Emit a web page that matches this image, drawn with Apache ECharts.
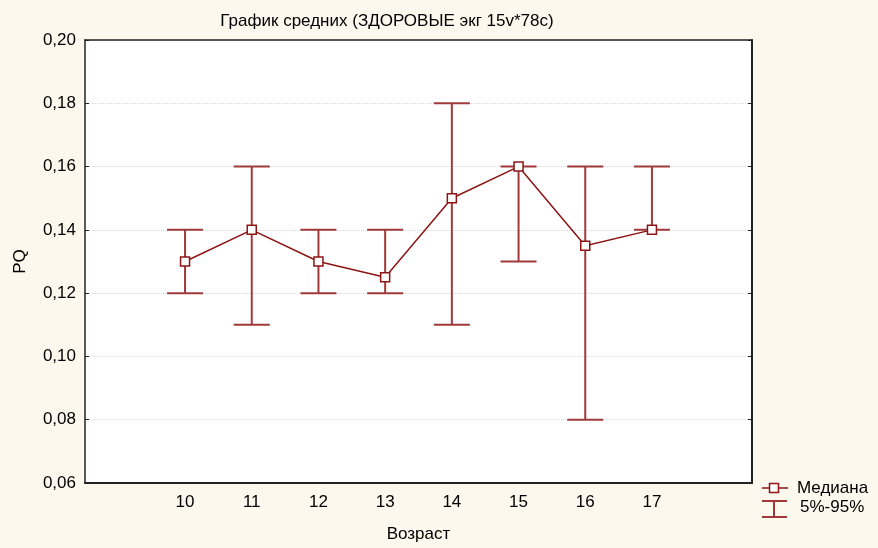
<!DOCTYPE html>
<html>
<head>
<meta charset="utf-8">
<script src="https://cdn.jsdelivr.net/npm/echarts@6/dist/echarts.min.js"></script>
<style>
  html, body { margin: 0; padding: 0; background: #fdf8ed; }
  #chart { width: 878px; height: 548px; }
</style>
</head>
<body>
<div id="chart"></div>
<script>
// оси
const xTicks = ["9", "10", "11", "12", "13", "14", "15", "16", "17", "18"];
const ages = ["10", "11", "12", "13", "14", "15", "16", "17"];
// медиана и 5%-95%
const medians = [0.13, 0.14, 0.13, 0.125, 0.15, 0.16, 0.135, 0.14];
const p5 = [0.12, 0.11, 0.12, 0.12, 0.11, 0.13, 0.08, 0.14];
const p95 = [0.14, 0.16, 0.14, 0.14, 0.18, 0.16, 0.16, 0.16];

const lineColor = "#8c1414";
const barColor = "#a03a3a";
const font = "Liberation Sans, Arial, sans-serif";
const fs = 17;

const chart = echarts.init(document.getElementById("chart"));

const errData = ages.map((a, i) => [a, p5[i], p95[i]]);

const option = {
  backgroundColor: "#fdf8ed",
  textStyle: { fontFamily: font },
  animation: false,
  title: {
    text: "График средних (ЗДОРОВЫЕ экг 15v*78c)",
    left: 382,
    top: 8,
    textAlign: "center",
    textStyle: { fontSize: fs, fontWeight: "normal", color: "#000", fontFamily: font },
  },
  grid: { left: 85, right: 126, top: 40, bottom: 65, show: true, backgroundColor: "#fff", borderWidth: 0 },
  xAxis: [
    {
      type: "category",
      data: xTicks,
      boundaryGap: true,
      name: "Возраст",
      nameLocation: "middle",
      nameGap: 43,
      nameTextStyle: { fontSize: fs, color: "#000" },
      axisLine: { lineStyle: { color: "#222", width: 2 } },
      axisTick: { inside: true, alignWithLabel: true, length: 4, lineStyle: { color: "#222" } },
      axisLabel: {
        fontSize: fs,
        color: "#000",
        margin: 11,
        interval: 0,
        formatter: (v) => (ages.includes(v) ? v : ""),
      },
      splitLine: { show: false },
    },
    {
      type: "category",
      data: xTicks,
      position: "top",
      boundaryGap: true,
      axisLine: { lineStyle: { color: "#222", width: 1.5 } },
      axisTick: { inside: true, alignWithLabel: true, length: 4, lineStyle: { color: "#222" } },
      axisLabel: { show: false },
    },
  ],
  yAxis: [
    {
      type: "value",
      min: 0.06,
      max: 0.2,
      interval: 0.02,
      name: "PQ",
      nameLocation: "middle",
      nameGap: 56,
      nameTextStyle: { fontSize: fs, color: "#000" },
      axisLine: { show: true, lineStyle: { color: "#222", width: 1.5 } },
      axisTick: { show: true, inside: true, length: 4, lineStyle: { color: "#222" } },
      axisLabel: {
        fontSize: fs,
        color: "#000",
        margin: 9,
        formatter: (v) => v.toFixed(2).replace(".", ","),
      },
      splitLine: { show: true, lineStyle: { color: "#d8d8d8", type: "dotted" } },
    },
    {
      type: "value",
      min: 0.06,
      max: 0.2,
      interval: 0.02,
      position: "right",
      axisLine: { show: true, lineStyle: { color: "#222", width: 2 } },
      axisTick: { show: true, inside: true, length: 4, lineStyle: { color: "#222" } },
      axisLabel: { show: false },
      splitLine: { show: false },
    },
  ],
  series: [
    {
      name: "5%-95%",
      type: "custom",
      data: errData,
      z: 2,
      renderItem: (params, api) => {
        const lo = api.coord([api.value(0), api.value(1)]);
        const hi = api.coord([api.value(0), api.value(2)]);
        const hw = 18;
        const style = { stroke: barColor, lineWidth: 2 };
        return {
          type: "group",
          children: [
            { type: "line", shape: { x1: lo[0], y1: lo[1], x2: hi[0], y2: hi[1] }, style },
            { type: "line", shape: { x1: lo[0] - hw, y1: lo[1], x2: lo[0] + hw, y2: lo[1] }, style },
            { type: "line", shape: { x1: hi[0] - hw, y1: hi[1], x2: hi[0] + hw, y2: hi[1] }, style },
          ],
        };
      },
    },
    {
      name: "Медиана",
      type: "line",
      data: ages.map((a, i) => [a, medians[i]]),
      z: 5,
      symbol: "rect",
      symbolSize: 9,
      lineStyle: { color: lineColor, width: 1.5 },
      itemStyle: { color: "#fff", borderColor: lineColor, borderWidth: 1.5 },
    },
  ],
  graphic: [
    { type: "line", shape: { x1: 762, y1: 488, x2: 788, y2: 488 }, style: { stroke: lineColor, lineWidth: 1.5 } },
    { type: "rect", shape: { x: 769.5, y: 483.5, width: 9, height: 9 }, style: { fill: "#fff", stroke: lineColor, lineWidth: 1.5 } },
    { type: "text", left: 797, top: 480, style: { text: "Медиана", fontSize: fs, fill: "#000", fontFamily: font } },
    { type: "line", shape: { x1: 762, y1: 501, x2: 787, y2: 501 }, style: { stroke: barColor, lineWidth: 2 } },
    { type: "line", shape: { x1: 774, y1: 501, x2: 774, y2: 517 }, style: { stroke: barColor, lineWidth: 2 } },
    { type: "line", shape: { x1: 762, y1: 517, x2: 787, y2: 517 }, style: { stroke: barColor, lineWidth: 2 } },
    { type: "text", left: 800, top: 499, style: { text: "5%-95%", fontSize: fs, fill: "#000", fontFamily: font } },
  ],
};

chart.setOption(option);
</script>
</body>
</html>
